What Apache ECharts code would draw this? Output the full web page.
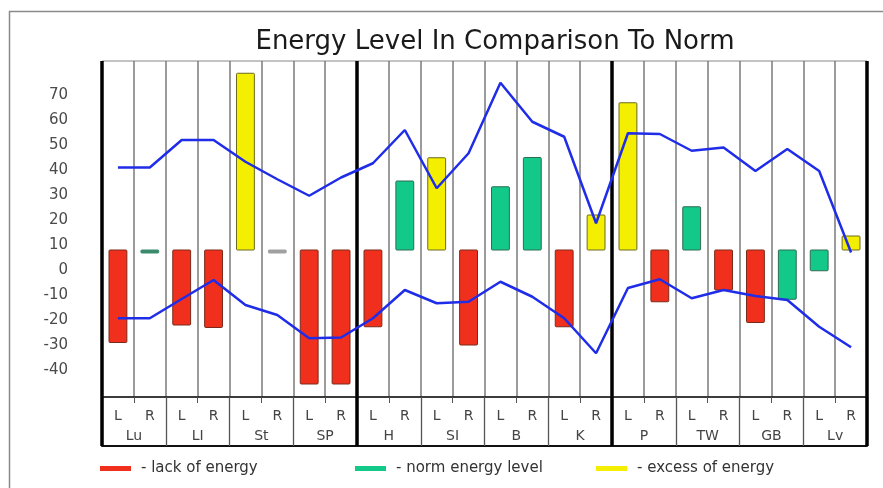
<!DOCTYPE html>
<html>
<head>
<meta charset="utf-8">
<script src="https://cdn.jsdelivr.net/npm/echarts@6/dist/echarts.min.js"></script>
<style>
html,body{margin:0;padding:0;background:#fff;}
#chart{width:883px;height:488px;}
</style>
</head>
<body>
<div id="chart"></div>
<script>
// ---- data ----
const sides = ['L','R','L','R','L','R','L','R','L','R','L','R','L','R','L','R','L','R','L','R','L','R','L','R'];
const meridians = ['Lu','LI','St','SP','H','SI','B','K','P','TW','GB','Lv'];
const groups = ['I','II','III'];
const normLevel = 8;
const lack   = [-29,null,-22,-23,null,null,-45.6,-45.6,-22.7,null,null,-30,null,null,-22.7,null,null,-12.7,null,-8,-21,null,null,null];
const norm   = [null,7.3,null,null,null,null,null,null,null,35.6,null,null,33.3,45,null,null,null,null,25.3,null,null,-11.7,-0.3,null];
const excess = [null,null,null,null,78.7,null,null,null,null,null,44.9,null,null,null,null,22,66.9,null,null,null,null,null,null,13.6];
const neutral= [null,null,null,null,null,7.4,null,null,null,null,null,null,null,null,null,null,null,null,null,null,null,null,null,null];
const upper  = [41,41,52,52,43.3,36.3,29.7,37,42.7,56,32.7,46.7,74.9,59.3,53.3,18.7,54.7,54.4,47.7,49,39.6,48.4,39.6,7];
const lower  = [-19.3,-19.3,-11.6,-4,-14,-18,-27.3,-27,-19.3,-8,-13.3,-12.7,-4.7,-10.7,-19.3,-33.3,-7.2,-3.7,-11.3,-8,-10.4,-12,-22.7,-30.9];

const FONT = 'DejaVu Sans';
const toPairs = arr => arr.map((v,i)=> v===null ? null : [i,v]).filter(d=>d);

function barRenderer(fill, stroke, thinFill){
  return function(params, api){
    const i = api.value(0), v = api.value(1);
    const p0 = api.coord([i, normLevel]);
    const p1 = api.coord([i, v]);
    const w = api.size([1,0])[0]*0.56;
    let y = Math.min(p0[1], p1[1]);
    let h = Math.abs(p1[1]-p0[1]);
    const thin = h < 3;
    if (thin) { h = 3; }
    return {
      type:'rect',
      shape:{x:p0[0]-w/2, y:y, width:w, height:h, r:1},
      style:{fill: thin ? thinFill : fill, stroke: thin ? thinFill : stroke, lineWidth:1}
    };
  };
}

const chart = echarts.init(document.getElementById('chart'), null, {renderer:'canvas'});
const legendBase = {orient:'horizontal', top:461, padding:0, icon:'rect', itemWidth:31, itemHeight:5, selectedMode:false,
  textStyle:{fontFamily:FONT, fontSize:15, color:'#333', padding:[0,0,0,5]}};
chart.setOption({
  animation:false,
  backgroundColor:'#fff',
  title:{text:'Energy Level In Comparison To Norm', left:490, top:24, textAlign:'center',
    textStyle:{fontFamily:FONT, fontSize:26, fontWeight:'normal', color:'#1a1a1a'}},
  graphic:[{type:'rect', shape:{x:9.5, y:11.5, width:900, height:520}, style:{fill:'none', stroke:'#8a8a8a', lineWidth:1.5}, silent:true}],
  legend:[
    Object.assign({left:100, data:['- lack of energy']}, legendBase),
    Object.assign({left:355, data:['- norm energy level']}, legendBase),
    Object.assign({left:596, data:['- excess of energy']}, legendBase)
  ],
  grid:{left:102, right:16, top:61, bottom:91, show:true, borderColor:'#888', borderWidth:1, backgroundColor:'#fff'},
  xAxis:[
    {type:'category', data:sides, position:'bottom',
      axisLine:{show:true, onZero:false, lineStyle:{color:'#111', width:1.5}},
      axisTick:{show:true, interval:0, length:6, lineStyle:{color:'#555', width:1}},
      axisLabel:{interval:0, margin:12, fontFamily:FONT, fontSize:14, color:'#444'},
      splitLine:{show:true, interval:0, lineStyle:{color:'#7a7a7a', width:1.5}}},
    {type:'category', data:meridians, position:'bottom', offset:49,
      axisLine:{show:true, onZero:false, lineStyle:{color:'#111', width:2}},
      axisTick:{show:true, inside:true, interval:0, length:49, lineStyle:{color:'#555', width:1.3}},
      axisLabel:{inside:true, interval:0, margin:3, fontFamily:FONT, fontSize:14, color:'#444'},
      splitLine:{show:false}},
    {type:'category', data:groups, position:'bottom', offset:49,
      axisLine:{show:false, onZero:false},
      axisTick:{show:true, inside:true, interval:0, length:49, lineStyle:{color:'#000', width:3.5}},
      axisLabel:{show:false},
      splitLine:{show:true, interval:0, lineStyle:{color:'#000', width:3.5}}}
  ],
  yAxis:{type:'value', min:-50.8, max:83.6, splitNumber:13,
    axisLine:{show:false}, axisTick:{show:false}, splitLine:{show:false},
    axisLabel:{margin:34, fontFamily:FONT, fontSize:15, color:'#4a4a4a',
      formatter:function(v){ const r = Math.round(v); if (Math.abs(v-r)>1e-6 || r%10!==0 || r<-40 || r>70) return ''; return String(r); }}},
  series:[
    {name:'- lack of energy', type:'custom', xAxisIndex:0, itemStyle:{color:'#f0301c'},
      renderItem:barRenderer('#f0301c','#7a2a1a','#f0301c'), data:toPairs(lack), z:3},
    {name:'- norm energy level', type:'custom', xAxisIndex:0, itemStyle:{color:'#12c98a'},
      renderItem:barRenderer('#12c98a','#2f6b52','#3a8a6c'), data:toPairs(norm), z:3},
    {name:'- excess of energy', type:'custom', xAxisIndex:0, itemStyle:{color:'#f4ee00'},
      renderItem:barRenderer('#f4ee00','#6b6a20','#f4ee00'), data:toPairs(excess), z:3},
    {name:'neutral', type:'custom', xAxisIndex:0, itemStyle:{color:'#a0a0a0'},
      renderItem:barRenderer('#a0a0a0','#a0a0a0','#a0a0a0'), data:toPairs(neutral), z:3},
    {name:'upper', type:'line', xAxisIndex:0, data:upper, symbol:'none', z:5,
      lineStyle:{color:'#1f2de8', width:2.5}},
    {name:'lower', type:'line', xAxisIndex:0, data:lower, symbol:'none', z:5,
      lineStyle:{color:'#1f2de8', width:2.5}}
  ]
});
</script>
</body>
</html>
